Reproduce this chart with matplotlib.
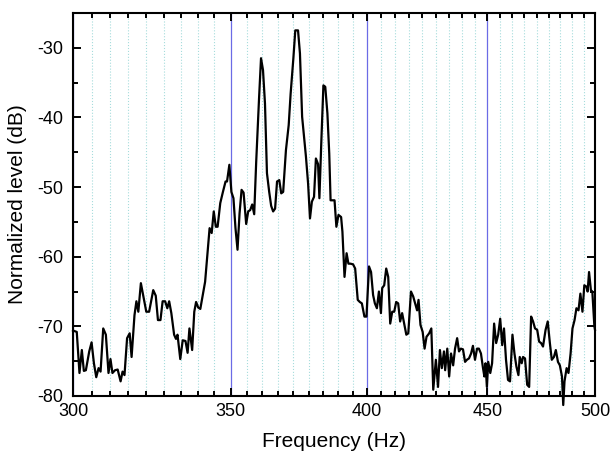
import numpy as np
import matplotlib
matplotlib.use('Agg')
import matplotlib.pyplot as plt
from matplotlib.ticker import FixedLocator, NullFormatter

plt.rcParams['font.family'] = ['Liberation Sans', 'DejaVu Sans']
plt.rcParams['axes.unicode_minus'] = False

# spectrum (frequency in Hz, level in dB)
freq_hz = [
    300.0, 301.1, 301.9, 302.6, 303.2, 303.8, 304.8, 305.5, 306.2, 306.9,
    307.6, 308.2, 309.0, 309.8, 310.6, 311.2, 311.8, 312.6, 313.4, 314.3,
    314.9, 315.5, 316.3, 317.1, 317.7, 318.6, 319.2, 319.8, 320.6, 321.3,
    322.3, 323.2, 324.5, 325.3, 326.0, 326.8, 327.5, 328.3, 329.0, 329.6,
    330.3, 331.2, 331.8, 332.3, 333.2, 334.0, 334.9, 335.6, 336.2, 337.1,
    337.8, 338.4, 339.1, 339.8, 341.4, 342.2, 342.9, 343.6, 344.3, 345.0,
    345.6, 346.5, 347.4, 348.3, 348.8, 349.6, 350.3, 351.0, 351.7, 352.4,
    353.1, 353.8, 354.5, 355.4, 356.1, 356.8, 357.5, 358.2, 358.9, 359.9,
    360.6, 361.3, 362.0, 362.7, 363.5, 364.2, 364.9, 365.6, 366.3, 367.1,
    367.8, 368.5, 369.5, 370.5, 371.2, 372.2, 372.9, 373.9, 374.6, 375.4,
    376.1, 376.8, 377.6, 378.3, 379.0, 379.8, 380.5, 381.3, 381.8, 382.5,
    383.3, 384.0, 384.8, 385.5, 386.0, 387.5, 388.2, 389.0, 390.0, 390.5,
    391.3, 392.1, 392.8, 393.6, 394.6, 395.4, 396.4, 397.2, 398.0, 399.0,
    399.8, 400.8, 401.6, 402.4, 403.1, 403.9, 404.7, 405.5, 406.0, 406.8,
    407.6, 408.4, 409.2, 410.0, 410.8, 411.6, 412.4, 413.2, 414.0, 414.8,
    415.7, 416.5, 417.6, 418.5, 419.3, 420.1, 420.7, 421.5, 422.4, 423.2,
    424.0, 425.1, 426.0, 426.8, 427.9, 428.8, 429.6, 430.4, 431.3, 431.8,
    432.7, 433.5, 434.3, 435.2, 436.0, 436.9, 437.7, 438.5, 439.4, 440.3,
    441.1, 442.0, 442.9, 443.7, 444.6, 445.5, 446.3, 447.2, 448.1, 448.7,
    449.2, 449.8, 450.4, 451.3, 452.1, 453.0, 453.9, 454.8, 455.7, 456.6,
    457.4, 458.3, 459.2, 460.1, 461.2, 462.1, 463.0, 463.9, 464.5, 465.4,
    466.0, 466.9, 467.9, 468.8, 469.7, 470.6, 471.5, 472.5, 473.4, 474.3,
    475.2, 476.4, 477.4, 478.4, 479.3, 480.3, 481.2, 482.2, 483.1, 484.1,
    484.7, 485.3, 486.3, 487.2, 488.2, 489.1, 490.1, 491.0, 492.0, 492.9,
    493.9, 494.8, 495.8, 496.4, 497.1, 498.0, 498.7, 499.7, 500.0,
]
level_db = [
    -70.6, -70.8, -76.7, -73.4, -76.4, -76.3, -73.6, -72.3, -75.3, -77.3,
    -76.0, -76.5, -70.3, -71.2, -76.7, -74.7, -76.7, -76.3, -76.2, -77.9,
    -76.5, -77.0, -71.7, -71.0, -74.4, -68.4, -66.4, -67.9, -63.8, -65.5,
    -67.9, -67.9, -64.8, -65.6, -69.1, -69.1, -66.4, -66.4, -67.4, -66.4,
    -68.1, -71.2, -71.8, -71.2, -74.7, -72.0, -72.1, -73.8, -70.3, -73.4,
    -67.9, -66.5, -67.3, -67.5, -63.6, -59.5, -55.9, -56.6, -53.5, -55.7,
    -55.7, -52.3, -50.7, -49.2, -49.2, -46.8, -50.7, -51.6, -55.9, -59.0,
    -53.8, -50.4, -50.8, -55.3, -53.5, -53.3, -52.5, -53.9, -46.4, -37.3,
    -31.5, -33.2, -38.0, -48.0, -50.7, -52.7, -53.5, -53.1, -49.2, -49.0,
    -50.9, -50.7, -44.7, -41.1, -36.6, -31.5, -27.5, -27.5, -30.8, -39.9,
    -42.8, -45.6, -49.5, -54.5, -52.1, -51.4, -45.9, -46.7, -51.6, -43.7,
    -35.4, -35.6, -39.4, -45.2, -51.9, -51.9, -55.7, -54.0, -54.3, -56.4,
    -62.9, -59.5, -61.0, -61.0, -61.1, -61.7, -66.2, -66.5, -66.7, -68.6,
    -68.6, -61.4, -62.2, -65.5, -66.7, -67.4, -65.0, -68.1, -64.5, -64.1,
    -61.7, -62.9, -69.6, -67.9, -67.9, -66.5, -66.7, -69.3, -68.1, -69.6,
    -71.2, -71.0, -65.0, -65.7, -66.7, -67.7, -66.2, -69.8, -70.8, -73.2,
    -71.5, -71.0, -70.3, -79.1, -74.8, -78.7, -73.4, -76.0, -73.6, -76.3,
    -73.2, -77.2, -73.9, -75.6, -73.2, -71.7, -73.6, -73.2, -73.3, -75.1,
    -74.8, -74.6, -73.9, -72.8, -74.8, -73.2, -73.2, -73.9, -76.0, -77.2,
    -75.3, -78.7, -75.1, -76.7, -75.3, -69.6, -72.4, -71.2, -68.9, -72.7,
    -70.3, -74.8, -77.7, -77.9, -71.2, -73.9, -75.8, -77.0, -74.4, -75.3,
    -74.4, -74.6, -78.4, -78.7, -68.6, -69.3, -70.3, -70.5, -72.2, -72.4,
    -72.9, -70.5, -69.3, -72.4, -74.8, -74.4, -73.4, -75.1, -75.6, -77.2,
    -81.3, -77.9, -76.0, -76.7, -73.9, -70.3, -69.1, -67.4, -67.7, -65.3,
    -67.9, -64.1, -64.3, -65.0, -62.2, -64.8, -65.0, -70.0, -70.5,
]

major_x = [300, 350, 400, 450, 500]
major_y = [-80, -70, -60, -50, -40, -30]


def main():
    fig = plt.figure(figsize=(6.1, 4.55), dpi=100)
    ax = fig.add_axes([0.1197, 0.1297, 0.8557, 0.8418])

    ax.plot(np.array(freq_hz), np.array(level_db), color='black', lw=1.6,
            clip_on=False, zorder=3)

    ax.set_xscale('log')
    ax.set_xlim(300, 500)
    ax.set_ylim(-80, -25)

    # minor ticks: 8 evenly spaced (in Hz) between each pair of majors
    minor_x = [a + k * (b - a) / 9.0 for a, b in zip(major_x[:-1], major_x[1:])
               for k in range(1, 9)]
    ax.xaxis.set_major_locator(FixedLocator(major_x))
    ax.xaxis.set_minor_locator(FixedLocator(minor_x))
    ax.set_xticklabels([str(v) for v in major_x])
    ax.xaxis.set_minor_formatter(NullFormatter())
    ax.yaxis.set_major_locator(FixedLocator(major_y))
    ax.yaxis.set_minor_locator(FixedLocator([-75, -65, -55, -45, -35, -25]))

    ax.tick_params(which='both', direction='in', top=True, right=True,
                   width=1.4, labelsize=13)
    ax.tick_params(which='major', length=6)
    ax.tick_params(which='minor', length=3.5)
    ax.tick_params(axis='x', pad=5)
    ax.tick_params(axis='y', pad=7)

    ax.set_axisbelow(True)
    ax.grid(True, which='minor', axis='x', color='#a6dcdc', ls=':', lw=0.8)
    ax.grid(True, which='major', axis='x', color='#6b6be6', ls='-', lw=0.9)

    for s in ax.spines.values():
        s.set_linewidth(1.5)

    ax.set_xlabel('Frequency (Hz)', fontsize=15, labelpad=9)
    ax.set_ylabel('Normalized level (dB)', fontsize=15, labelpad=7)

    fig.savefig('out.png', dpi=100)


if __name__ == "__main__":
    main()
